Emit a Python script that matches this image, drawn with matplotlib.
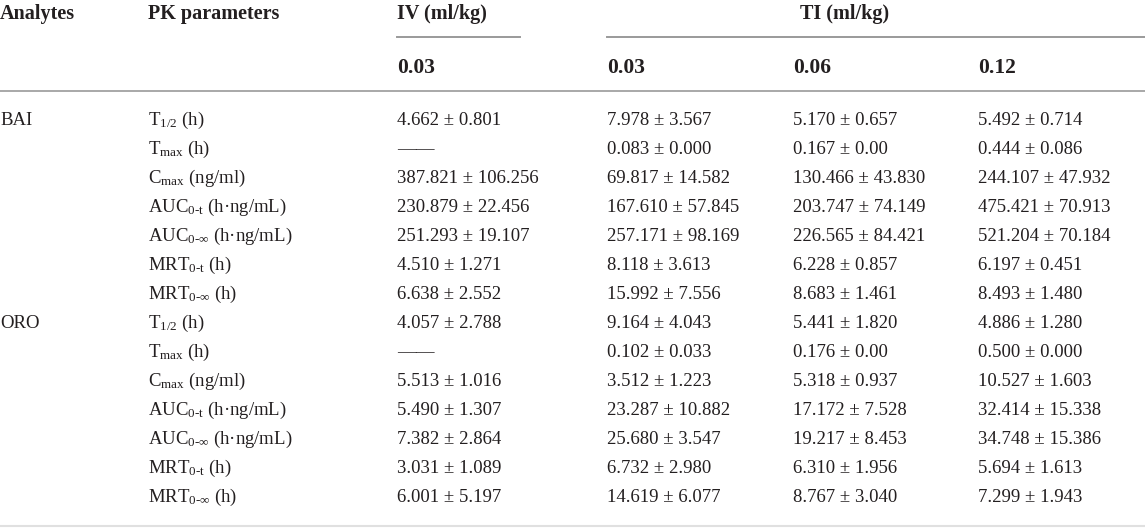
import matplotlib
matplotlib.use('Agg')
import matplotlib.pyplot as plt

plt.rcParams['font.family'] = ['Liberation Serif', 'DejaVu Serif']
plt.rcParams['mathtext.fontset'] = 'custom'
plt.rcParams['mathtext.rm'] = 'Liberation Serif'
plt.rcParams['mathtext.it'] = 'Liberation Serif:italic'
plt.rcParams['mathtext.bf'] = 'Liberation Serif:bold'

# Table content
analytes = ['BAI', 'ORO']
pk_params = [r'T$_{\mathrm{1/2}}$ (h)',
             r'T$_{\mathrm{max}}$ (h)',
             r'C$_{\mathrm{max}}$ (ng/ml)',
             r'AUC$_{\mathrm{0\text{-}t}}$ (h·ng/mL)',
             r'AUC$_{\mathrm{0\text{-}\infty}}$ (h·ng/mL)',
             r'MRT$_{\mathrm{0\text{-}t}}$ (h)',
             r'MRT$_{\mathrm{0\text{-}\infty}}$ (h)']
group_labels = ['IV (ml/kg)', 'TI (ml/kg)']
dose_labels = ['0.03', '0.03', '0.06', '0.12']

bai_iv = ['4.662 ± 0.801', '——', '387.821 ± 106.256', '230.879 ± 22.456',
          '251.293 ± 19.107', '4.510 ± 1.271', '6.638 ± 2.552']
bai_ti_003 = ['7.978 ± 3.567', '0.083 ± 0.000', '69.817 ± 14.582', '167.610 ± 57.845',
              '257.171 ± 98.169', '8.118 ± 3.613', '15.992 ± 7.556']
bai_ti_006 = ['5.170 ± 0.657', '0.167 ± 0.00', '130.466 ± 43.830', '203.747 ± 74.149',
              '226.565 ± 84.421', '6.228 ± 0.857', '8.683 ± 1.461']
bai_ti_012 = ['5.492 ± 0.714', '0.444 ± 0.086', '244.107 ± 47.932', '475.421 ± 70.913',
              '521.204 ± 70.184', '6.197 ± 0.451', '8.493 ± 1.480']

oro_iv = ['4.057 ± 2.788', '——', '5.513 ± 1.016', '5.490 ± 1.307',
          '7.382 ± 2.864', '3.031 ± 1.089', '6.001 ± 5.197']
oro_ti_003 = ['9.164 ± 4.043', '0.102 ± 0.033', '3.512 ± 1.223', '23.287 ± 10.882',
              '25.680 ± 3.547', '6.732 ± 2.980', '14.619 ± 6.077']
oro_ti_006 = ['5.441 ± 1.820', '0.176 ± 0.00', '5.318 ± 0.937', '17.172 ± 7.528',
              '19.217 ± 8.453', '6.310 ± 1.956', '8.767 ± 3.040']
oro_ti_012 = ['4.886 ± 1.280', '0.500 ± 0.000', '10.527 ± 1.603', '32.414 ± 15.338',
              '34.748 ± 15.386', '5.694 ± 1.613', '7.299 ± 1.943']

values = {'BAI': [bai_iv, bai_ti_003, bai_ti_006, bai_ti_012],
          'ORO': [oro_iv, oro_ti_003, oro_ti_006, oro_ti_012]}

# Layout (pixel coordinates, y grows downward)
W, H = 1145, 532
col_x = [0, 148, 397, 607, 793, 978]
TEXT = '#231f20'
RULE = '#9a9a9a'

fig = plt.figure(figsize=(W / 100, H / 100), dpi=100)
ax = fig.add_axes([0, 0, 1, 1])
ax.set_xlim(0, W)
ax.set_ylim(H, 0)
ax.axis('off')

hdr = dict(fontsize=14.5, fontweight='bold', color=TEXT, va='baseline')
dose = dict(fontsize=15.5, fontweight='bold', color=TEXT, va='baseline')
body = dict(fontsize=13.5, color=TEXT, va='baseline')

hdr_base = 19
ax.text(col_x[0], hdr_base, 'Analytes', **hdr)
ax.text(col_x[1], hdr_base, 'PK parameters', **hdr)
ax.text(col_x[2], hdr_base, group_labels[0], **hdr)
ax.text(845, hdr_base, group_labels[1], ha='center', **hdr)

ax.plot([col_x[2], 520], [37, 37], color=RULE, lw=1.4)
ax.plot([col_x[3], W], [37, 37], color=RULE, lw=1.4)

for x, lab in zip(col_x[2:], dose_labels):
    ax.text(x, 73, lab, **dose)

ax.plot([0, W], [91, 91], color=RULE, lw=1.2)

row_base0 = 125
row_h = 29.0
for g, name in enumerate(analytes):
    for i, p in enumerate(pk_params):
        y = row_base0 + (g * len(pk_params) + i) * row_h
        if i == 0:
            ax.text(col_x[0], y, name, **body)
        ax.text(col_x[1], y, p, **body)
        for c, col in enumerate(values[name]):
            ax.text(col_x[2 + c], y, col[i], **body)

ax.plot([0, W], [526, 526], color='#e0e0e0', lw=1.5)

fig.savefig('out.png', dpi=100)
